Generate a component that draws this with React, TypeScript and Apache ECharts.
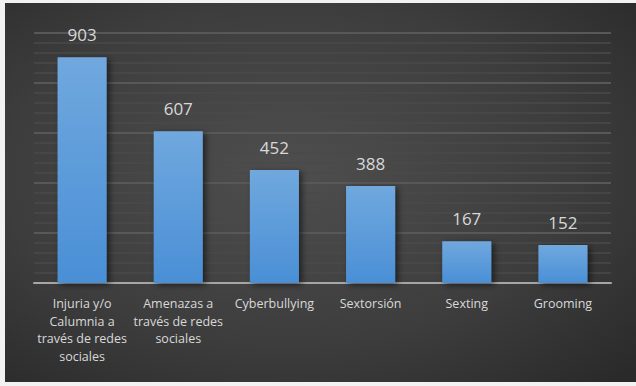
import React, { useEffect, useRef } from "react";
import * as echarts from "echarts";

const categories = [
  "Injuria y/o\nCalumnia a\ntravés de redes\nsociales",
  "Amenazas a\ntravés de redes\nsociales",
  "Cyberbullying",
  "Sextorsión",
  "Sexting",
  "Grooming",
];
const values = [903, 607, 452, 388, 167, 152];
const yMin = 0;
const yMax = 1000;
const yInterval = 200;

export default function App() {
  const ref = useRef<HTMLDivElement>(null);
  useEffect(() => {
    document.body.style.margin = "0";
    const chart = echarts.init(ref.current!, undefined, { renderer: "svg" });
    chart.setOption({
      animation: false,
      backgroundColor: "#f2f2f2",
      graphic: [
        {
          type: "rect",
          z: -10,
          silent: true,
          shape: { x: 5, y: 3, width: 631, height: 379 },
          style: {
            fill: new echarts.graphic.RadialGradient(0.45, 0.45, 0.75, [
              { offset: 0, color: "#4e4e4e" },
              { offset: 0.6, color: "#3d3d3d" },
              { offset: 1, color: "#2a2a2a" },
            ]),
          },
        },
      ],
      grid: { left: 34, right: 25, top: 33, bottom: 103, containLabel: false },
      xAxis: {
        type: "category",
        data: categories,
        axisLine: { lineStyle: { color: "#a6a6a6", width: 2 } },
        axisTick: { show: false },
        axisLabel: {
          interval: 0,
          color: "#d9d9d9",
          fontFamily: "Open Sans",
          fontSize: 12.5,
          lineHeight: 17.5,
          margin: 12,
        },
      },
      yAxis: {
        type: "value",
        min: yMin,
        max: yMax,
        interval: yInterval,
        axisLabel: { show: false },
        axisLine: { show: false },
        axisTick: { show: false },
        splitLine: { lineStyle: { color: "#585858", width: 2 } },
        minorTick: { show: false, splitNumber: 5 },
        minorSplitLine: { show: true, lineStyle: { color: "#4a4a4a", width: 1.5 } },
      },
      series: [
        {
          type: "bar",
          data: values,
          barWidth: "51%",
          itemStyle: {
            color: new echarts.graphic.LinearGradient(0, 0, 0, 1, [
              { offset: 0, color: "#70a8de" },
              { offset: 1, color: "#4a8fd6" },
            ]),
            shadowColor: "rgba(0,0,0,0.55)",
            shadowBlur: 6,
            shadowOffsetX: 3,
            shadowOffsetY: 2,
          },
          label: {
            show: true,
            position: "top",
            distance: 14,
            color: "#d9d9d9",
            fontFamily: "Open Sans",
            fontSize: 17,
          },
        },
      ],
    });
    return () => chart.dispose();
  }, []);
  return <div ref={ref} style={{ width: 636, height: 386 }} />;
}
